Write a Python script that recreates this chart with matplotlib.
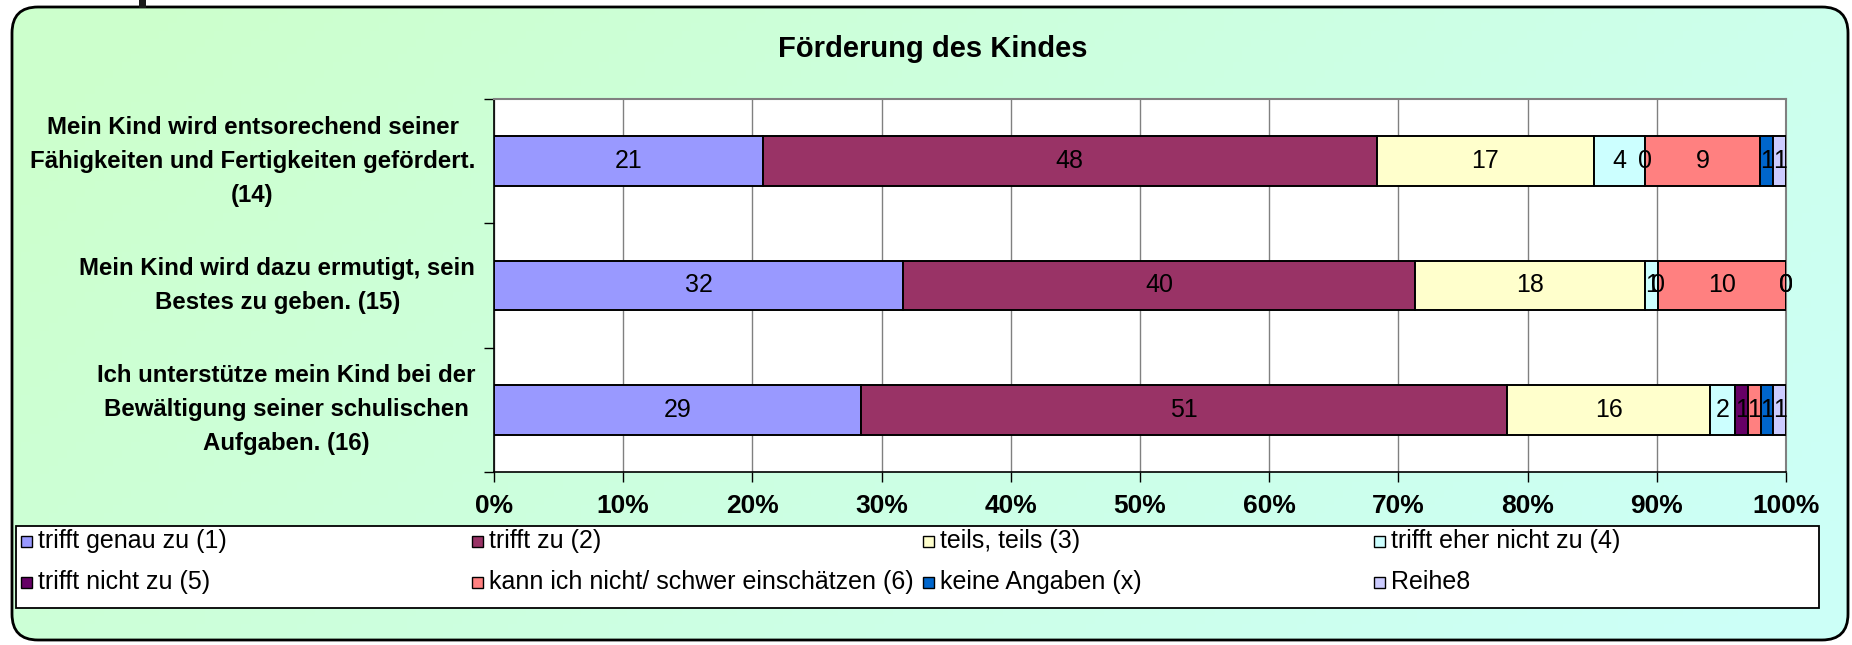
import numpy as np
import matplotlib
matplotlib.use("Agg")
import matplotlib.pyplot as plt
from matplotlib.patches import FancyBboxPatch, Rectangle
from matplotlib import font_manager

# Chart data (counts per answer, per question)
categories = [
    "Mein Kind wird entsorechend seiner\nFähigkeiten und Fertigkeiten gefördert.\n(14)",
    "Mein Kind wird dazu ermutigt, sein\nBestes zu geben. (15)",
    "Ich unterstütze mein Kind bei der\nBewältigung seiner schulischen\nAufgaben. (16)",
]
trifft_genau = [21, 32, 29]
trifft_zu = [48, 40, 51]
teils_teils = [17, 18, 16]
eher_nicht = [4, 1, 2]
nicht_zu = [0, 0, 1]
kann_nicht = [9, 10, 1]
keine_angaben = [1, 0, 1]
reihe8 = [1, 0, 1]

series_names = ["trifft genau zu (1)", "trifft zu (2)", "teils, teils (3)",
                "trifft eher nicht zu (4)", "trifft nicht zu (5)",
                "kann ich nicht/ schwer einschätzen (6)", "keine Angaben (x)", "Reihe8"]
series_colors = ["#9999FF", "#993366", "#FFFFCC", "#CCFFFF",
                 "#660066", "#FF8080", "#0066CC", "#CCCCFF"]
x_ticks = [0, 0.1, 0.2, 0.3, 0.4, 0.5, 0.6, 0.7, 0.8, 0.9, 1.0]
x_tick_labels = ["0%", "10%", "20%", "30%", "40%", "50%", "60%", "70%", "80%", "90%", "100%"]
title = "Förderung des Kindes"

series = [trifft_genau, trifft_zu, teils_teils, eher_nicht,
          nicht_zu, kann_nicht, keine_angaben, reihe8]

names = {f.name for f in font_manager.fontManager.ttflist}
base_font = "Liberation Sans" if "Liberation Sans" in names else "DejaVu Sans"
plt.rcParams['font.family'] = [base_font, 'DejaVu Sans']

W, H = 1852, 645
fig = plt.figure(figsize=(W / 100, H / 100), dpi=100)

# background axes in pixel units: gradient + rounded frame
bg = fig.add_axes([0, 0, 1, 1])
bg.set_xlim(0, W)
bg.set_ylim(H, 0)
bg.axis('off')
xx, yy = np.meshgrid(np.linspace(0, 1, 200), np.linspace(0, 1, 80))
t = np.clip(0.8 * xx + 0.3 * yy - 0.05, 0, 1)
grad = np.zeros((80, 200, 3))
grad[..., 0] = 0.80
grad[..., 1] = 1.0
grad[..., 2] = 0.80 + t * (0.97 - 0.80)
frame = FancyBboxPatch((12, 7), 1836, 633, boxstyle="round,pad=0,rounding_size=26",
                       facecolor='none', edgecolor='black', lw=2.0, zorder=3)
bg.add_patch(frame)
im = bg.imshow(grad, extent=(12, 1848, 640, 7), aspect='auto', zorder=1)
im.set_clip_path(frame)
bg.add_patch(Rectangle((139, 0), 7, 8, facecolor='#1a1a1a', edgecolor='none', zorder=4))

# plot area
ax = fig.add_axes([494 / W, 1 - 472 / H, 1292 / W, 373 / H])
ax.set_facecolor('white')
y = np.arange(len(categories))
totals = np.sum(np.array(series), axis=0)
left = np.zeros(len(categories))
for vals, name, col in zip(series, series_names, series_colors):
    share = np.array(vals) / totals
    ax.barh(y, share, left=left, height=0.4, color=col, edgecolor='black',
            linewidth=1.4, label=name, zorder=3)
    for yi, (v, s, l) in enumerate(zip(vals, share, left)):
        ax.text(l + s / 2, yi, str(v), ha='center', va='center', fontsize=18, zorder=4)
    left = left + share

ax.set_xlim(0, 1)
ax.set_ylim(len(categories) - 0.5, -0.5)
ax.set_xticks(x_ticks)
ax.set_xticklabels(x_tick_labels, fontsize=19, fontweight='bold')
ax.tick_params(axis='x', length=7, width=1, pad=9, color='black')
ax.set_yticks(y)
ax.set_yticklabels(categories, fontsize=17.3, fontweight='bold', linespacing=1.62)
for lab in ax.get_yticklabels():
    lab.set_multialignment('center')
    lab.set_va('center')
ax.tick_params(axis='y', which='major', length=0, pad=13.5)
ax.set_yticks(np.arange(len(categories) + 1) - 0.5, minor=True)
ax.tick_params(axis='y', which='minor', length=7, width=1, color='black')
ax.grid(axis='x', color='#808080', lw=1, zorder=0)
for s in ['top', 'right']:
    ax.spines[s].set_color('#808080')
    ax.spines[s].set_linewidth(1.5)
for s in ['left', 'bottom']:
    ax.spines[s].set_color('black')
    ax.spines[s].set_linewidth(1.2)

fig.text(933 / W, 1 - 49 / H, title, ha='center', va='center', fontsize=21, fontweight='bold')

# legend drawn as a grid: 4 equal columns, filled row by row
bg.add_patch(Rectangle((16, 526), 1803, 82, facecolor='white', edgecolor='black',
                       lw=1.3, zorder=5))
col_w = 451
row_y = [541, 582]
for i, (name, col) in enumerate(zip(series_names, series_colors)):
    cx = 21 + (i % 4) * col_w
    cy = row_y[i // 4]
    bg.add_patch(Rectangle((cx, cy - 5.5), 11, 11, facecolor=col, edgecolor='black',
                           lw=1.0, zorder=6))
    bg.text(cx + 17, cy, name, ha='left', va='center', fontsize=18, zorder=6)

fig.savefig("out.png", dpi=100)
